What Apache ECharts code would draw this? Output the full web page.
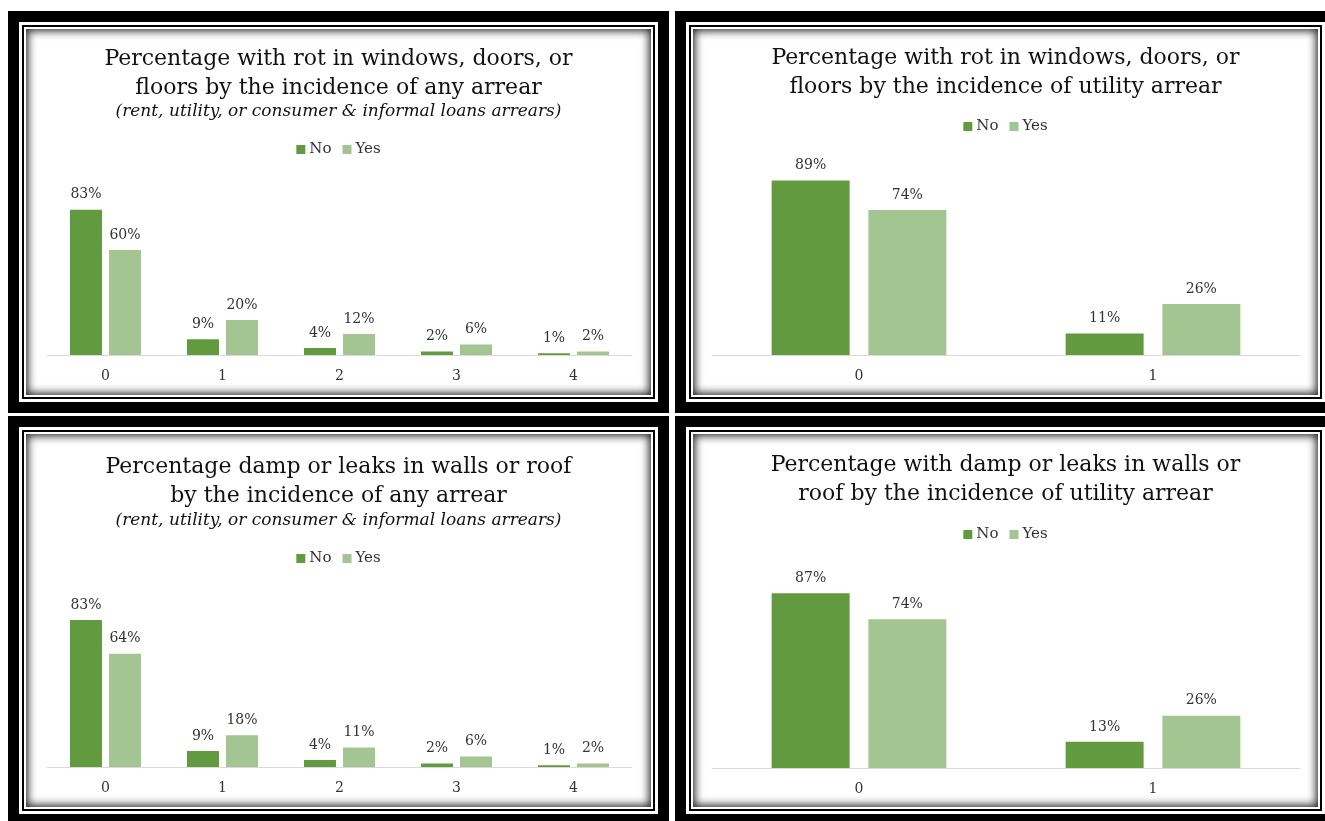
<!DOCTYPE html>
<html>
<head>
<meta charset="utf-8">
<script src="https://cdn.jsdelivr.net/npm/echarts@6/dist/echarts.min.js"></script>
<style>
  html, body { margin:0; padding:0; width:1325px; height:821px; overflow:hidden; background:#fff; }
  .panel { position:absolute; box-sizing:border-box; border:11px solid #000; padding:3px; background:#fff; }
  .ring { box-sizing:border-box; width:100%; height:100%; border:2px solid #000; padding:2px; background:#fff; }
  .content { position:relative; width:100%; height:100%; background:#fff;
             box-shadow: inset 0 0 9px 2px rgba(0,0,0,0.85); }
  .chart { position:absolute; left:0; top:0; right:0; bottom:0; }
</style>
</head>
<body>
<div class="panel" style="left:8px;top:11px;width:661px;height:402px"><div class="ring"><div class="content"><div class="chart" id="c1"></div></div></div></div>
<div class="panel" style="left:675px;top:11px;width:661px;height:402px"><div class="ring"><div class="content"><div class="chart" id="c2"></div></div></div></div>
<div class="panel" style="left:8px;top:416px;width:661px;height:409px"><div class="ring"><div class="content"><div class="chart" id="c3"></div></div></div></div>
<div class="panel" style="left:675px;top:416px;width:661px;height:409px"><div class="ring"><div class="content"><div class="chart" id="c4"></div></div></div></div>
<script>
// ---- data ----
const seriesNames = ['No', 'Yes'];
const categoriesAny = ['0', '1', '2', '3', '4'];
const categoriesUtility = ['0', '1'];

const rotAnyNo = [83, 9, 4, 2, 1];
const rotAnyYes = [60, 20, 12, 6, 2];
const rotUtilityNo = [89, 11];
const rotUtilityYes = [74, 26];
const dampAnyNo = [83, 9, 4, 2, 1];
const dampAnyYes = [64, 18, 11, 6, 2];
const dampUtilityNo = [87, 13];
const dampUtilityYes = [74, 26];

const titleRotAny = ['Percentage with rot in windows, doors, or', 'floors by the incidence of any arrear'];
const titleRotUtility = ['Percentage with rot in windows, doors, or', 'floors by the incidence of utility arrear'];
const titleDampAny = ['Percentage damp or leaks in walls or roof', 'by the incidence of any arrear'];
const titleDampUtility = ['Percentage with damp or leaks in walls or', 'roof by the incidence of utility arrear'];
const subtitleAny = '(rent, utility, or consumer & informal loans arrears)';

// ---- styles ----
const FONT = 'DejaVu Serif';
const COLOR_NO = '#629B3F';
const COLOR_YES = '#A3C591';

function build(id, titleLines, subtitle, cats, noVals, yesVals, L) {
  const chart = echarts.init(document.getElementById(id), null, { renderer: 'canvas' });
  const titles = [{
    text: titleLines.join('\n'),
    left: 'center', top: L.titleTop, padding: 0,
    textStyle: { fontFamily: FONT, fontSize: 22, fontWeight: 'normal', color: '#111', lineHeight: 29 }
  }];
  if (subtitle) {
    titles.push({
      text: subtitle, left: 'center', top: L.subTop, padding: 0,
      textStyle: { fontFamily: FONT, fontSize: 17, fontStyle: 'italic', fontWeight: 'normal', color: '#111', lineHeight: 20 }
    });
  }
  const label = {
    show: true, position: 'top', distance: L.labelDist,
    formatter: p => p.value + '%',
    fontFamily: FONT, fontSize: 14, color: '#333'
  };
  chart.setOption({
    animation: false,
    backgroundColor: 'transparent',
    title: titles,
    legend: {
      data: seriesNames, top: L.legendTop, left: 'center', padding: 0,
      itemWidth: 9, itemHeight: 9, itemGap: 11, icon: 'rect',
      textStyle: { fontFamily: FONT, fontSize: 15, color: '#333', padding: [0, 0, 0, -1] }
    },
    grid: { left: L.left, right: L.right, top: L.gridTop, bottom: L.gridBottom, containLabel: false },
    xAxis: {
      type: 'category', data: cats,
      axisLine: { show: true, lineStyle: { color: '#D9D9D9', width: 1 } },
      axisTick: { show: false },
      axisLabel: { fontFamily: FONT, fontSize: 14, color: '#333', margin: 14 }
    },
    yAxis: {
      type: 'value', min: 0, max: 100, show: false,
      splitLine: { show: false }
    },
    series: [
      { name: seriesNames[0], type: 'bar', data: noVals, barWidth: L.barWidth, barGap: L.barGap,
        itemStyle: { color: COLOR_NO }, label: label },
      { name: seriesNames[1], type: 'bar', data: yesVals, barWidth: L.barWidth, barGap: L.barGap,
        itemStyle: { color: COLOR_YES }, label: label }
    ]
  });
}

build('c1', titleRotAny, subtitleAny, categoriesAny, rotAnyNo, rotAnyYes,
  { titleTop: 16, subTop: 73, legendTop: 113, left: 21, right: 19, gridTop: 151, gridBottom: 40, barWidth: 32, barGap: '22%', labelDist: 8 });
build('c2', titleRotUtility, null, categoriesUtility, rotUtilityNo, rotUtilityYes,
  { titleTop: 15, legendTop: 90, left: 19, right: 18, gridTop: 130, gridBottom: 40, barWidth: 78, barGap: '24%', labelDist: 8 });
build('c3', titleDampAny, subtitleAny, categoriesAny, dampAnyNo, dampAnyYes,
  { titleTop: 19, subTop: 77, legendTop: 117, left: 21, right: 19, gridTop: 156, gridBottom: 40, barWidth: 32, barGap: '22%', labelDist: 8 });
build('c4', titleDampUtility, null, categoriesUtility, dampUtilityNo, dampUtilityYes,
  { titleTop: 17, legendTop: 93, left: 19, right: 18, gridTop: 133, gridBottom: 39, barWidth: 78, barGap: '24%', labelDist: 8 });
</script>
</body>
</html>
